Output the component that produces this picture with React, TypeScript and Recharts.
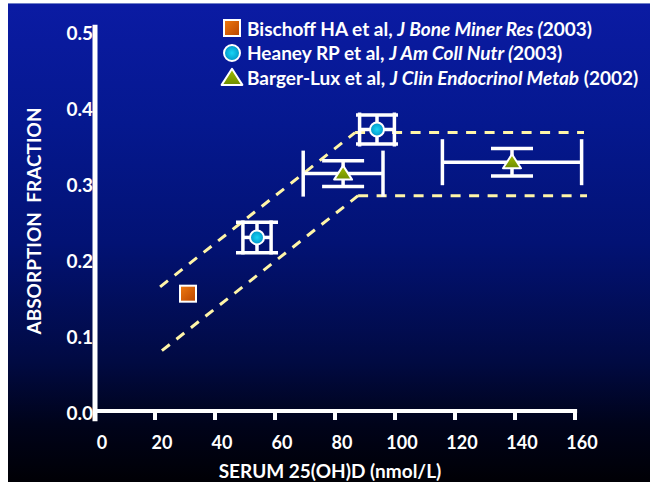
import React from 'react';
import { ScatterChart, Scatter, XAxis, YAxis, ErrorBar, ReferenceLine, Label } from 'recharts';

// Axis ticks
const xTicks = [0, 20, 40, 60, 80, 100, 120, 140, 160];
const yTicks = [0, 0.1, 0.2, 0.3, 0.4, 0.5];

// Study means with error half-widths (ex: nmol/L, ey: absorption fraction)
const bischoff = [{ x: 31, y: 0.157 }];
const heaney = [
  { x: 54, y: 0.231, ex: 4.7, ey: 0.02 },
  { x: 94, y: 0.373, ex: 5.8, ey: 0.019 },
];
const bargerLux = [
  { x: 82.7, y: 0.315, ex: 13.3, ey: 0.017 },
  { x: 139, y: 0.33, ex: 23.2, ey: 0.018 },
];

// Dashed envelope: rising segment then plateau
const upperBand = [
  { x: 21.7, y: 0.166 },
  { x: 86.7, y: 0.369 },
  { x: 163, y: 0.369 },
];
const lowerBand = [
  { x: 22.3, y: 0.082 },
  { x: 87.7, y: 0.286 },
  { x: 164, y: 0.286 },
];

// Legend text pieces: authors (upright), journal (italic), year (upright)
const legendAuthors = ['Bischoff HA et al, ', 'Heaney RP et al, ', 'Barger-Lux et al, '];
const legendJournals = ['J Bone Miner Res (', 'J Am Coll Nutr (', 'J Clin Endocrinol Metab'];
const legendYears = ['2003)', '2003)', ' (2002)'];
const legendShapes = ['square', 'circle', 'triangle'];

const FONT = 'Lato, "Open Sans", sans-serif';
const WHITE = '#ffffff';
const DASH = '#fff5a8';

const SquareMark = ({ cx, cy }: any) => (
  <rect x={cx - 8} y={cy - 8} width={16} height={16} fill="url(#sqFill)" stroke={WHITE} strokeWidth={2} />
);
const CircleMark = ({ cx, cy }: any) => (
  <circle cx={cx} cy={cy} r={7} fill="url(#ciFill)" stroke={WHITE} strokeWidth={2} />
);
const TriangleMark = ({ cx, cy, s = 1 }: any) => (
  <path
    d={`M${cx},${cy - 8 * s} L${cx + 9 * s},${cy + 6 * s} L${cx - 9 * s},${cy + 6 * s} Z`}
    fill="url(#trFill)"
    stroke={WHITE}
    strokeWidth={2}
    strokeLinejoin="round"
  />
);

const LegendIcon = ({ kind }: { kind: string }) => (
  <svg width={24} height={22} style={{ flex: 'none' }}>
    {kind === 'square' && <SquareMark cx={12} cy={11} />}
    {kind === 'circle' && <circle cx={12} cy={11} r={8} fill="url(#ciFill)" stroke={WHITE} strokeWidth={2} />}
    {kind === 'triangle' && <TriangleMark cx={12} cy={12} s={1.15} />}
  </svg>
);

const LegendBox = () => (
  <div
    style={{
      position: 'absolute',
      left: 212,
      top: 12,
      fontFamily: FONT,
      fontWeight: 700,
      fontSize: 19,
      color: WHITE,
    }}
  >
    {legendAuthors.map((a, i) => (
      <div key={a} style={{ display: 'flex', alignItems: 'center', height: 24.5, whiteSpace: 'pre' }}>
        <LegendIcon kind={legendShapes[i]} />
        <span style={{ marginLeft: 3 }}>
          {a}
          <i>{legendJournals[i]}</i>
          {legendYears[i]}
        </span>
      </div>
    ))}
  </div>
);

const XTick = ({ x, y, payload }: any) => (
  <text x={x + 7} y={y + 29} textAnchor="middle" fill={WHITE} fontFamily={FONT} fontWeight={700} fontSize={18}>
    {payload.value}
  </text>
);

const YTick = ({ x, y, payload }: any) => (
  <text x={x - 2} y={y + 7} textAnchor="end" fill={WHITE} fontFamily={FONT} fontWeight={700} fontSize={19}>
    {Number(payload.value).toFixed(1)}
  </text>
);

const XTitle = ({ viewBox }: any) => (
  <text
    x={viewBox.x + 235}
    y={viewBox.y + 65}
    textAnchor="middle"
    fill={WHITE}
    fontFamily={FONT}
    fontWeight={700}
    fontSize={19}
  >
    SERUM 25(OH)D (nmol/L)
  </text>
);

const YTitle = ({ viewBox }: any) => {
  const cx = viewBox.x - 2;
  const cy = viewBox.y + viewBox.height / 2 - 2;
  return (
    <text
      x={cx}
      y={cy}
      transform={`rotate(-90 ${cx} ${cy})`}
      textAnchor="middle"
      dominantBaseline="central"
      fill={WHITE}
      fontFamily={FONT}
      fontWeight={700}
      fontSize={19}
      style={{ whiteSpace: 'pre' }}
    >
      ABSORPTION  FRACTION
    </text>
  );
};

const seg = (pts: { x: number; y: number }[], i: number) => [pts[i], pts[i + 1]];

export default function App() {
  return (
    <div
      style={{
        position: 'absolute',
        left: 8,
        top: 3,
        width: 642,
        height: 479,
        borderTop: '1px solid #7080c8',
        boxSizing: 'border-box',
        background:
          'linear-gradient(to bottom, #0b1ba3 0%, #05188f 25%, #021274 50%, #010a42 75%, #00031a 88%, #000005 100%)',
      }}
    >
      <svg width={0} height={0} style={{ position: 'absolute' }}>
        <defs>
          <linearGradient id="sqFill" x1="0" y1="0" x2="1" y2="1">
            <stop offset="0%" stopColor="#f07a10" />
            <stop offset="100%" stopColor="#b84400" />
          </linearGradient>
          <radialGradient id="ciFill" cx="0.5" cy="0.5" r="0.5">
            <stop offset="0%" stopColor="#18d4f4" />
            <stop offset="100%" stopColor="#0096c8" />
          </radialGradient>
          <linearGradient id="trFill" x1="0" y1="0" x2="0" y2="1">
            <stop offset="0%" stopColor="#a4c000" />
            <stop offset="100%" stopColor="#6e8c00" />
          </linearGradient>
        </defs>
      </svg>
      <ScatterChart width={642} height={478} margin={{ top: 29, right: 66, bottom: 9, left: 27 }}>
        <XAxis
          type="number"
          dataKey="x"
          domain={[0, 163]}
          ticks={xTicks}
          interval={0}
          height={60}
          axisLine={false}
          tickLine={{ stroke: WHITE, strokeWidth: 4 }}
          tickSize={7}
          tickMargin={0}
          tick={<XTick />}
        >
          <Label content={<XTitle />} />
        </XAxis>
        <YAxis
          type="number"
          dataKey="y"
          domain={[0, 0.5]}
          ticks={yTicks}
          interval={0}
          width={60}
          axisLine={false}
          tickLine={false}
          tickSize={0}
          tickMargin={0}
          tick={<YTick />}
        >
          <Label content={<YTitle />} />
        </YAxis>

        {[0, 1].map((i) => (
          <ReferenceLine
            key={`u${i}`}
            segment={seg(upperBand, i)}
            ifOverflow="visible"
            stroke={DASH}
            strokeWidth={3}
            strokeDasharray="10 8.5"
          />
        ))}
        {[0, 1].map((i) => (
          <ReferenceLine
            key={`l${i}`}
            segment={seg(lowerBand, i)}
            ifOverflow="visible"
            stroke={DASH}
            strokeWidth={3}
            strokeDasharray="10 8.5"
          />
        ))}

        <ReferenceLine
          segment={[{ x: 0, y: -0.011 }, { x: 0, y: 0.511 }]}
          ifOverflow="visible"
          stroke={WHITE}
          strokeWidth={5}
        />
        <ReferenceLine
          segment={[{ x: -0.7, y: 0.0026 }, { x: 160.7, y: 0.0026 }]}
          ifOverflow="visible"
          stroke={WHITE}
          strokeWidth={4}
        />

        <Scatter name="Bischoff HA et al" data={bischoff} shape={<SquareMark />} isAnimationActive={false} />
        <Scatter name="Heaney RP et al" data={heaney} shape={<CircleMark />} isAnimationActive={false}>
          <ErrorBar dataKey="ex" direction="x" width={17} stroke={WHITE} strokeWidth={3.5} isAnimationActive={false} />
          <ErrorBar dataKey="ey" direction="y" width={21} stroke={WHITE} strokeWidth={3.5} isAnimationActive={false} />
        </Scatter>
        <Scatter name="Barger-Lux et al" data={bargerLux} shape={<TriangleMark />} isAnimationActive={false}>
          <ErrorBar dataKey="ex" direction="x" width={23} stroke={WHITE} strokeWidth={3.5} isAnimationActive={false} />
          <ErrorBar dataKey="ey" direction="y" width={21} stroke={WHITE} strokeWidth={3.5} isAnimationActive={false} />
        </Scatter>
      </ScatterChart>
      <LegendBox />
    </div>
  );
}
